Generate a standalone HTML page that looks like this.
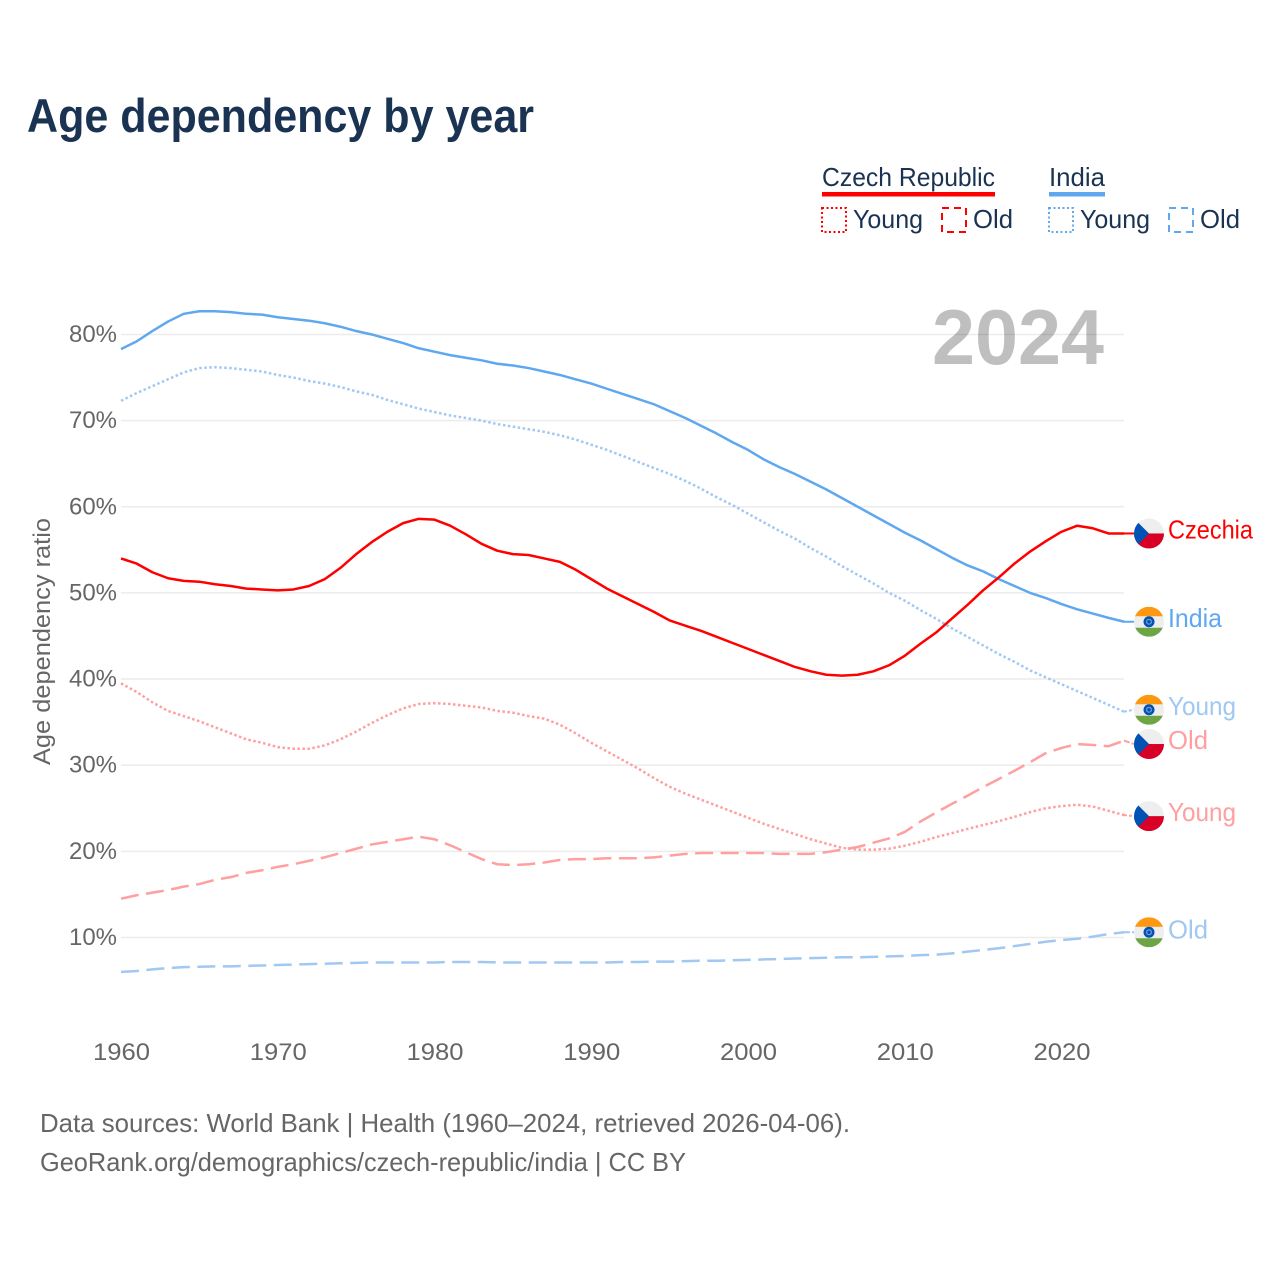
<!DOCTYPE html>
<html lang="en">
<head>
<meta charset="utf-8">
<title>Age dependency by year</title>
<style>
html,body{margin:0;padding:0;background:#fff;width:1280px;height:1280px;overflow:hidden}
svg{display:block}
text{font-family:"Liberation Sans",sans-serif}
</style>
</head>
<body>
<svg id="chart" xmlns="http://www.w3.org/2000/svg" width="1280" height="1280" viewBox="0 0 1280 1280">
  <defs>
    <clipPath id="flag-clip"><circle cx="0" cy="0" r="15"/></clipPath>
  </defs>
  <rect width="1280" height="1280" fill="#fff"/>
  <text x="27" y="132" font-size="47" font-weight="700" fill="#1a3352" textLength="507" lengthAdjust="spacingAndGlyphs">Age dependency by year</text>

  <g font-size="26" fill="#1a3352">
    <text x="822" y="186" textLength="173" lengthAdjust="spacingAndGlyphs">Czech Republic</text>
    <rect x="822" y="192" width="173" height="4.5" fill="#ff0000"/>
    <text x="1049" y="186" textLength="56" lengthAdjust="spacingAndGlyphs">India</text>
    <rect x="1049" y="192" width="56" height="4.5" fill="#5fa8ef"/>
    <rect x="822" y="208" width="24" height="24" fill="none" stroke="#ff0000" stroke-width="2" stroke-dasharray="2 2.5"/>
    <text x="853" y="228" textLength="70" lengthAdjust="spacingAndGlyphs">Young</text>
    <rect x="942" y="208" width="24" height="24" fill="none" stroke="#ff0000" stroke-width="2" stroke-dasharray="7 5"/>
    <text x="973" y="228" textLength="40" lengthAdjust="spacingAndGlyphs">Old</text>
    <rect x="1049" y="208" width="24" height="24" fill="none" stroke="#5fa8ef" stroke-width="2" stroke-dasharray="2 2.5"/>
    <text x="1080" y="228" textLength="70" lengthAdjust="spacingAndGlyphs">Young</text>
    <rect x="1169" y="208" width="24" height="24" fill="none" stroke="#5fa8ef" stroke-width="2" stroke-dasharray="7 5"/>
    <text x="1200" y="228" textLength="40" lengthAdjust="spacingAndGlyphs">Old</text>
  </g>

  <g id="grid"></g>
  <text x="932" y="364" font-size="78" font-weight="700" fill="#000" fill-opacity="0.25" textLength="172" lengthAdjust="spacingAndGlyphs">2024</text>
  <g id="y-ticks" font-size="24" fill="#666"></g>
  <g id="x-ticks" font-size="24" fill="#666"></g>
  <text transform="translate(50,765) rotate(-90)" font-size="24" fill="#666" textLength="247" lengthAdjust="spacingAndGlyphs">Age dependency ratio</text>
  <g id="series"></g>
  <g id="end-labels" font-size="26"></g>

  <g font-size="26" fill="#666">
    <text x="40" y="1132" textLength="810" lengthAdjust="spacingAndGlyphs">Data sources: World Bank | Health (1960–2024, retrieved 2026-04-06).</text>
    <text x="40" y="1171" textLength="646" lengthAdjust="spacingAndGlyphs">GeoRank.org/demographics/czech-republic/india | CC BY</text>
  </g>
</svg>
<script>
var startYear = 1960;
var xTickYears = [1960, 1970, 1980, 1990, 2000, 2010, 2020];
var yTickValues = [10, 20, 30, 40, 50, 60, 70, 80];

var indiaTotal = [
  78.3,79.2,80.4,81.5,82.4,82.7,82.7,82.6,82.4,82.3,
  82.0,81.8,81.6,81.3,80.9,80.4,80.0,79.5,79.0,78.4,
  78.0,77.6,77.3,77.0,76.6,76.4,76.1,75.7,75.3,74.8,
  74.3,73.7,73.1,72.5,71.9,71.1,70.3,69.4,68.5,67.5,
  66.6,65.5,64.6,63.8,62.9,62.0,61.0,60.0,59.0,58.0,
  57.0,56.1,55.1,54.1,53.2,52.5,51.6,50.8,50.0,49.4,
  48.7,48.1,47.6,47.1,46.65];
var indiaYoung = [
  72.3,73.2,74.0,74.8,75.6,76.1,76.2,76.1,75.9,75.7,
  75.3,75.0,74.6,74.3,73.9,73.4,73.0,72.4,71.9,71.4,
  71.0,70.6,70.3,70.0,69.6,69.3,69.0,68.7,68.3,67.8,
  67.2,66.6,65.9,65.2,64.5,63.8,63.0,62.1,61.1,60.2,
  59.2,58.2,57.2,56.3,55.2,54.2,53.1,52.1,51.1,50.0,
  49.1,48.0,47.0,45.9,44.9,43.9,42.9,42.0,41.0,40.2,
  39.4,38.6,37.8,37.0,36.2];
var indiaOld = [
  6.0,6.1,6.3,6.45,6.55,6.6,6.65,6.65,6.7,6.75,
  6.8,6.85,6.9,6.95,7.0,7.05,7.1,7.1,7.1,7.1,
  7.1,7.15,7.15,7.15,7.1,7.1,7.1,7.1,7.1,7.1,
  7.1,7.1,7.15,7.15,7.2,7.2,7.25,7.3,7.3,7.35,
  7.4,7.45,7.5,7.55,7.6,7.65,7.7,7.7,7.75,7.8,
  7.85,7.95,8.0,8.15,8.35,8.55,8.75,9.0,9.25,9.5,
  9.7,9.85,10.1,10.4,10.6];
var czechTotal = [
  54.0,53.4,52.4,51.7,51.4,51.3,51.0,50.8,50.5,50.4,
  50.3,50.4,50.8,51.6,52.9,54.5,55.9,57.1,58.1,58.6,
  58.5,57.8,56.8,55.7,54.9,54.5,54.4,54.0,53.6,52.7,
  51.6,50.5,49.6,48.7,47.8,46.8,46.2,45.6,44.9,44.2,
  43.5,42.8,42.1,41.4,40.9,40.5,40.4,40.5,40.9,41.6,
  42.7,44.1,45.4,47.0,48.6,50.3,51.8,53.4,54.8,56.0,
  57.1,57.8,57.5,56.9,56.9];
var czechYoung = [
  39.5,38.5,37.3,36.3,35.7,35.1,34.4,33.7,33.0,32.6,
  32.1,31.9,31.9,32.3,33.0,33.9,34.9,35.8,36.6,37.1,
  37.2,37.1,36.9,36.7,36.3,36.1,35.7,35.4,34.7,33.7,
  32.6,31.6,30.6,29.6,28.5,27.5,26.7,26.0,25.3,24.6,
  23.9,23.2,22.6,22.0,21.4,20.9,20.4,20.2,20.2,20.3,
  20.65,21.1,21.65,22.1,22.6,23.05,23.5,24.0,24.55,25.0,
  25.25,25.4,25.2,24.7,24.2];
var czechOld = [
  14.5,14.9,15.2,15.5,15.9,16.2,16.7,17.0,17.5,17.8,
  18.2,18.5,18.9,19.3,19.8,20.3,20.8,21.1,21.4,21.7,
  21.4,20.7,19.9,19.1,18.5,18.4,18.5,18.7,19.0,19.1,
  19.1,19.2,19.2,19.2,19.3,19.5,19.7,19.8,19.8,19.8,
  19.8,19.8,19.7,19.7,19.7,19.9,20.2,20.5,21.0,21.5,
  22.25,23.45,24.5,25.5,26.45,27.45,28.4,29.35,30.35,31.4,
  32.0,32.45,32.35,32.2,32.85];

var svgNS = 'http://www.w3.org/2000/svg';
function xScale(year) { return 121 + (year - startYear) * 15.675; }
function yScale(value) { return 1023.6 - value * 8.614; }
function make(tag, attrs, parent) {
  var el = document.createElementNS(svgNS, tag);
  for (var k in attrs) el.setAttribute(k, attrs[k]);
  parent.appendChild(el);
  return el;
}

var grid = document.getElementById('grid');
var yTicks = document.getElementById('y-ticks');
yTickValues.forEach(function (v) {
  var line = make('line', {x1: 121, x2: 1124, y1: yScale(v), y2: yScale(v), stroke: '#ececec', 'stroke-width': 1.5}, grid);
  
  
  var t = make('text', {x: 69, y: yScale(v) + 7.5, textLength: 48, lengthAdjust: 'spacingAndGlyphs'}, yTicks);
  t.textContent = v + '%';
  
  
});

var xTicks = document.getElementById('x-ticks');
xTickYears.forEach(function (yr) {
  var t = make('text', {x: xScale(yr) - 28, y: 1060, textLength: 57, lengthAdjust: 'spacingAndGlyphs'}, xTicks);
  t.textContent = String(yr);
  
  
});

var seriesGroup = document.getElementById('series');
var endGroup = document.getElementById('end-labels');

function drawSeries(name, values, color, dash) {
  var d = values.map(function (v, i) {
    return (i ? 'L' : 'M') + xScale(startYear + i).toFixed(2) + ' ' + yScale(v).toFixed(2);
  }).join(' ');
  var attrs = {d: d, fill: 'none', stroke: color, 'stroke-width': 2.5, 'stroke-linejoin': 'round'};
  if (dash) attrs['stroke-dasharray'] = dash;
  var p = make('path', attrs, seriesGroup);
  
  
}

function drawFlag(country, cx, cy) {
  var g = make('g', {transform: 'translate(' + cx + ',' + cy + ')', 'clip-path': 'url(#flag-clip)'}, endGroup);
  
  
  make('rect', {x: -15, y: -15, width: 30, height: 30, fill: '#eeeeee'}, g);
  if (country === 'czech') {
    make('rect', {x: -15, y: 0, width: 30, height: 15, fill: '#d80027'}, g);
    make('polygon', {points: '-15,-15 0,0 -15,15', fill: '#0052b4'}, g);
  } else {
    make('rect', {x: -15, y: -15, width: 30, height: 9.5, fill: '#ff9811'}, g);
    make('rect', {x: -15, y: 6, width: 30, height: 9, fill: '#6da544'}, g);
    make('circle', {cx: 0, cy: 0, r: 5.5, fill: '#0052b4'}, g);
    make('circle', {cx: 0, cy: 0, r: 3, fill: '#6f9fd8'}, g);
    make('circle', {cx: 0, cy: 0, r: 1.8, fill: '#0052b4'}, g);
  }
}

function drawEnd(name, country, values, color, dash, label, width, flagShift, textShift) {
  var last = yScale(values[values.length - 1]);
  var flagY = last + flagShift;
  var attrs = {x1: 1124, y1: last, x2: 1134, y2: flagY, stroke: color, 'stroke-width': 2};
  if (dash) attrs['stroke-dasharray'] = dash;
  var lead = make('line', attrs, endGroup);
  
  
  drawFlag(country, 1149, flagY);
  var t = make('text', {x: 1168, y: flagY + textShift, fill: color, textLength: width, lengthAdjust: 'spacingAndGlyphs'}, endGroup);
  t.textContent = label;
  
  
}

var RED = '#ff0000', BLUE = '#5fa8ef', PINK = '#ff9f9f', SKY = '#a0c8f2';
var DOT = '2.5 2.5', DASH = '18 7.5';

drawSeries('india-old-line', indiaOld, SKY, DASH);
drawSeries('czech-old-line', czechOld, PINK, DASH);
drawSeries('czech-young-line', czechYoung, PINK, DOT);
drawSeries('india-young-line', indiaYoung, SKY, DOT);
drawSeries('india-total-line', indiaTotal, BLUE, null);
drawSeries('czech-total-line', czechTotal, RED, null);

drawEnd('czech-total', 'czech', czechTotal, RED, null, 'Czechia', 85, 0, 5);
drawEnd('india-total', 'india', indiaTotal, BLUE, null, 'India', 54, 0, 5);
drawEnd('india-young', 'india', indiaYoung, SKY, '3 2', 'Young', 68, -2, 5);
drawEnd('czech-old', 'czech', czechOld, PINK, '6 2', 'Old', 40, 3.4, 5);
drawEnd('czech-young', 'czech', czechYoung, PINK, '3 2', 'Young', 68, 1, 5);
drawEnd('india-old', 'india', indiaOld, SKY, '6 2', 'Old', 40, 0, 6);
</script>
</body>
</html>
